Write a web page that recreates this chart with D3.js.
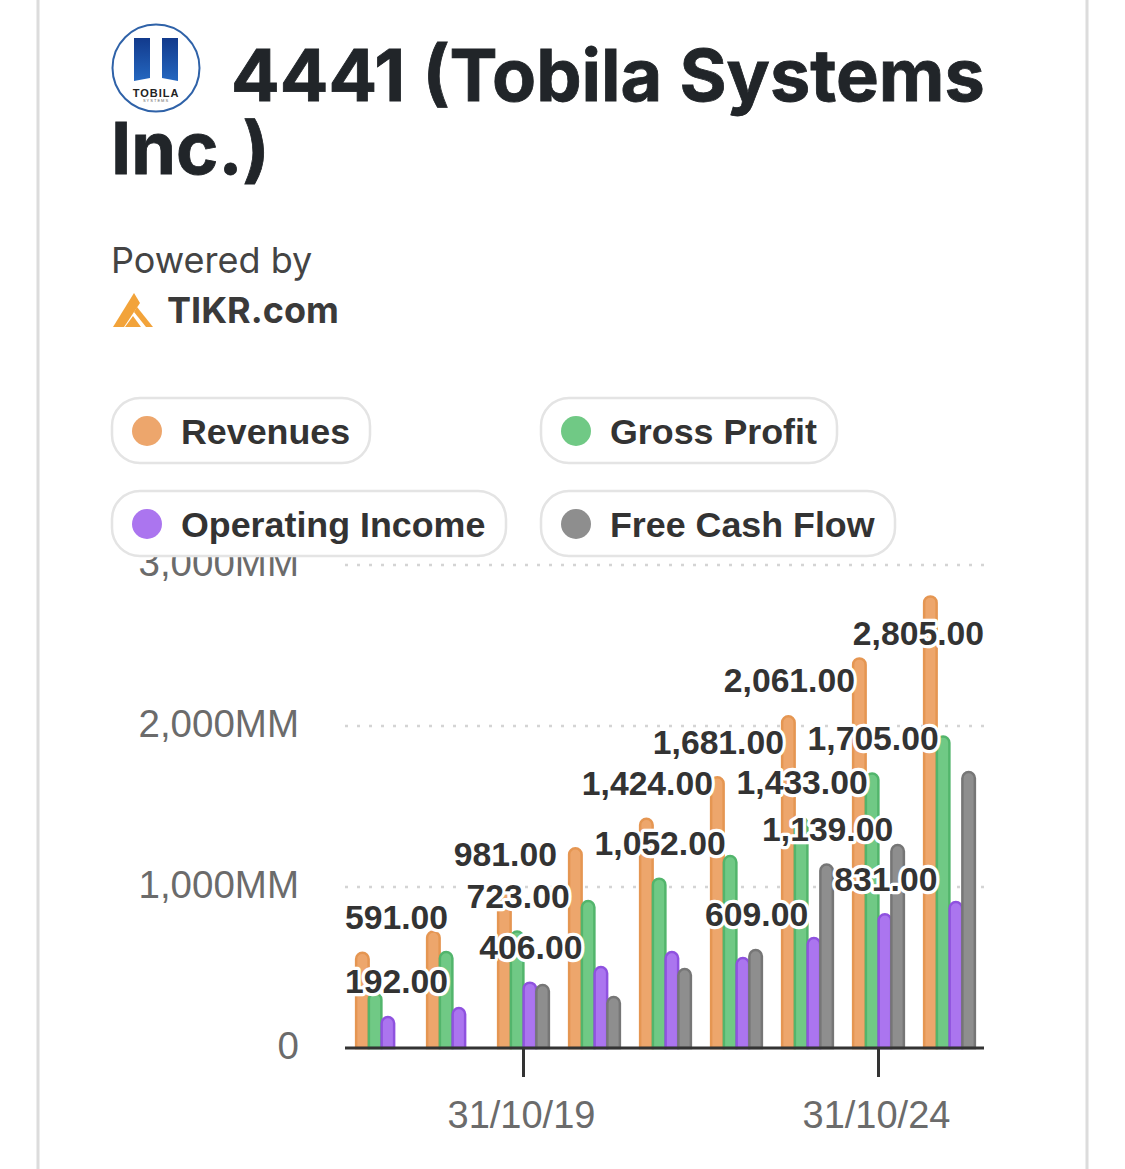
<!DOCTYPE html>
<html><head><meta charset="utf-8">
<script src="https://cdn.jsdelivr.net/npm/d3@7/dist/d3.min.js"></script>
<style>html,body{margin:0;padding:0;background:#fff}svg{display:block}</style>
</head><body><svg id="c" width="1125" height="1169"></svg>
<script>
const periods = ["31/10/17","31/10/18","31/10/19","31/10/20","31/10/21","31/10/22","31/10/23","31/10/24","31/10/25"];
const tickLabels = ["31/10/19","31/10/24"];
const yTicks = [0,1000,2000,3000];
const seriesNames = ["Revenues","Gross Profit","Operating Income","Free Cash Flow"];
const revenues = [591,723,981,1240,1424,1681,2061,2420,2805];
const grossProfit = [340,596,723,913,1052,1192,1433,1705,1935];
const operatingIncome = [192,248,406,503,596,559,683,831,907];
const freeCashFlow = [null,null,391,317,490,609,1139,1261,1714];
const revenueLabels = [591,null,981,null,1424,1681,2061,null,2805];
const grossLabels = [null,null,723,null,1052,null,1433,1705,null];
const opLabels = [192,null,406,null,null,null,null,831,null];
const fcfLabels = [null,null,null,null,null,609,1139,null,null];
const fills = ["#eda66c","#70c985","#ab75ef","#8e8e8e"];
const strokes = ["#e59652","#52b56c","#8f52df","#767676"];

const svg = d3.select("#c");
const sans = "'Liberation Sans',Arial,sans-serif";
const plotLeft = 345, plotRight = 984, plotTop = 565, base = 1048;

[38,1087].forEach(px=>svg.append("line").attr("x1",px).attr("x2",px).attr("y1",0).attr("y2",1169).attr("stroke","#dcdcdc").attr("stroke-width",3));

const logo = svg.append("g").attr("transform","translate(156,68)");
const defs = svg.append("defs");
const grad = defs.append("linearGradient").attr("id","lg").attr("x1",0).attr("x2",0).attr("y1",0).attr("y2",1);
grad.append("stop").attr("offset","0").attr("stop-color","#123a8c");
grad.append("stop").attr("offset","1").attr("stop-color","#2467c0");
logo.append("circle").attr("r",43.5).attr("fill","#fff").attr("stroke","#2f62a8").attr("stroke-width",2);
logo.append("path").attr("d","M-22,-30H-6V10L-22,13Z").attr("fill","url(#lg)");
logo.append("path").attr("d","M6,-30H22V13L6,10Z").attr("fill","url(#lg)");
logo.append("text").attr("x",0).attr("y",29).attr("text-anchor","middle").attr("font-family",sans).attr("font-weight",700).attr("font-size",11).attr("letter-spacing",1).attr("fill","#222").text("TOBILA");
logo.append("text").attr("x",0).attr("y",34).attr("text-anchor","middle").attr("font-family",sans).attr("font-size",4).attr("letter-spacing",1).attr("fill","#666").text("SYSTEMS");

const inter = "Inter,sans-serif";
svg.append("text").attr("x",231).attr("y",101).attr("font-family",inter).attr("font-weight",700).attr("font-size",72).attr("stroke","#212529").attr("stroke-width",0.8).attr("fill","#212529").text("4441 (Tobila Systems");
svg.append("text").attr("x",111).attr("y",174).attr("font-family",inter).attr("font-weight",700).attr("font-size",72).attr("stroke","#212529").attr("stroke-width",0.8).attr("fill","#212529").text("Inc.)");
svg.append("text").attr("x",111).attr("y",273).attr("font-family",inter).attr("font-size",36).attr("fill","#444").text("Powered by");
svg.append("text").attr("x",167).attr("y",323).attr("font-family",inter).attr("font-weight",700).attr("font-size",36).attr("fill","#3a3a3a").text("TIKR.com");
const tk = svg.append("g").attr("transform","translate(113,293)").attr("fill","#f2a33a");
tk.append("path").attr("d","M0,34L21,0L27,10L11,34Z");
tk.append("path").attr("d","M24,14L40,34H33L21,19Z");
tk.append("path").attr("d","M12,34L20,23L28,34Z");

const x = d3.scaleBand().domain(periods).range([plotLeft+1,plotRight+1]).padding(0);
const y = d3.scaleLinear().domain([0,3000]).range([base,plotTop]);
const sub = d3.scaleBand().domain(seriesNames).range([0,51]).padding(0);
const barW = 12.5;
const chart = svg.append("g");

yTicks.filter(d=>d>0).forEach(t=>{
  chart.append("line").attr("x1",plotLeft).attr("x2",plotRight).attr("y1",y(t)).attr("y2",y(t))
    .attr("stroke","#d4d4d4").attr("stroke-width",2.5).attr("stroke-dasharray","3 9");
});
const fmtY = d=> d===0?"0":d3.format(",")(d)+"MM";
yTicks.forEach(t=>{
  chart.append("text").attr("x",299).attr("y",y(t)-2).attr("dy","0.35em").attr("text-anchor","end")
    .attr("font-family",sans).attr("font-size",38.5).attr("fill","#6b6b6b").text(fmtY(t));
});

const allSeries = [revenues,grossProfit,operatingIncome,freeCashFlow];
const groupOffset = (x.bandwidth()-51)/2;
function barPath(cx,v){
  const w=barW, r=w/2, t=y(v), l=cx-w/2;
  return `M${l},${base}V${t+r}A${r},${r} 0 0 1 ${l+w},${t+r}V${base}Z`;
}
const centers = (i,si)=> x(periods[i])+groupOffset+sub(seriesNames[si])+sub.bandwidth()/2;
allSeries.forEach((vals,si)=>{
  chart.append("g").selectAll("path").data(vals.map((v,i)=>({v,i})).filter(d=>d.v!=null)).join("path")
    .attr("d",d=>barPath(centers(d.i,si),d.v))
    .attr("fill",fills[si]).attr("stroke",strokes[si]).attr("stroke-width",2.5);
});

chart.append("line").attr("x1",plotLeft).attr("x2",plotRight).attr("y1",base).attr("y2",base).attr("stroke","#333").attr("stroke-width",3);
tickLabels.forEach(t=>{
  const cx = x(t)+x.bandwidth()/2;
  chart.append("line").attr("x1",cx).attr("x2",cx).attr("y1",base).attr("y2",base+29).attr("stroke","#333").attr("stroke-width",3);
  chart.append("text").attr("x",cx-2).attr("y",1128).attr("text-anchor","middle").attr("font-family",sans).attr("font-size",38).attr("fill","#6b6b6b").text(t);
});

const labelSets = [revenueLabels,grossLabels,opLabels,fcfLabels];
const fmtL = d3.format(",.2f");
labelSets.forEach((vals,si)=>{
  vals.forEach((v,i)=>{
    if(v==null) return;
    const barTop = y(allSeries[si][i]);
    // labels sit above their bar, or just inside it when they would leave the plot
    const ly = barTop-35.5 < plotTop+15 ? barTop+37 : barTop-35.5;
    const t = chart.append("text").attr("font-family",sans).attr("font-weight",700).attr("font-size",33.7)
      .attr("fill","#333").attr("stroke","#fff").attr("stroke-width",6.5).attr("stroke-linejoin","round")
      .attr("paint-order","stroke").attr("y",ly).attr("dy","0.35em").text(fmtL(v));
    const w = t.node().getComputedTextLength();
    let lx = centers(i,si)-w/2+1;
    lx = Math.max(plotLeft,Math.min(plotRight-w,lx));
    t.attr("x",lx);
  });
});

const legendX = [111,540,111,540], legendY=[397,397,490,490], legendW=[260,298,396,356];
seriesNames.forEach((n,i)=>{
  const g = svg.append("g").attr("transform",`translate(${legendX[i]},${legendY[i]})`);
  g.append("rect").attr("x",1).attr("y",1).attr("width",legendW[i]-2).attr("height",65).attr("rx",28).attr("fill","#fff").attr("stroke","#e4e4e4").attr("stroke-width",2.5);
  g.append("circle").attr("cx",36).attr("cy",34).attr("r",15).attr("fill",fills[i]);
  g.append("text").attr("x",70).attr("y",47).attr("font-family",sans).attr("font-weight",700).attr("font-size",35.8).attr("fill","#333").text(n);
});
</script></body></html>
